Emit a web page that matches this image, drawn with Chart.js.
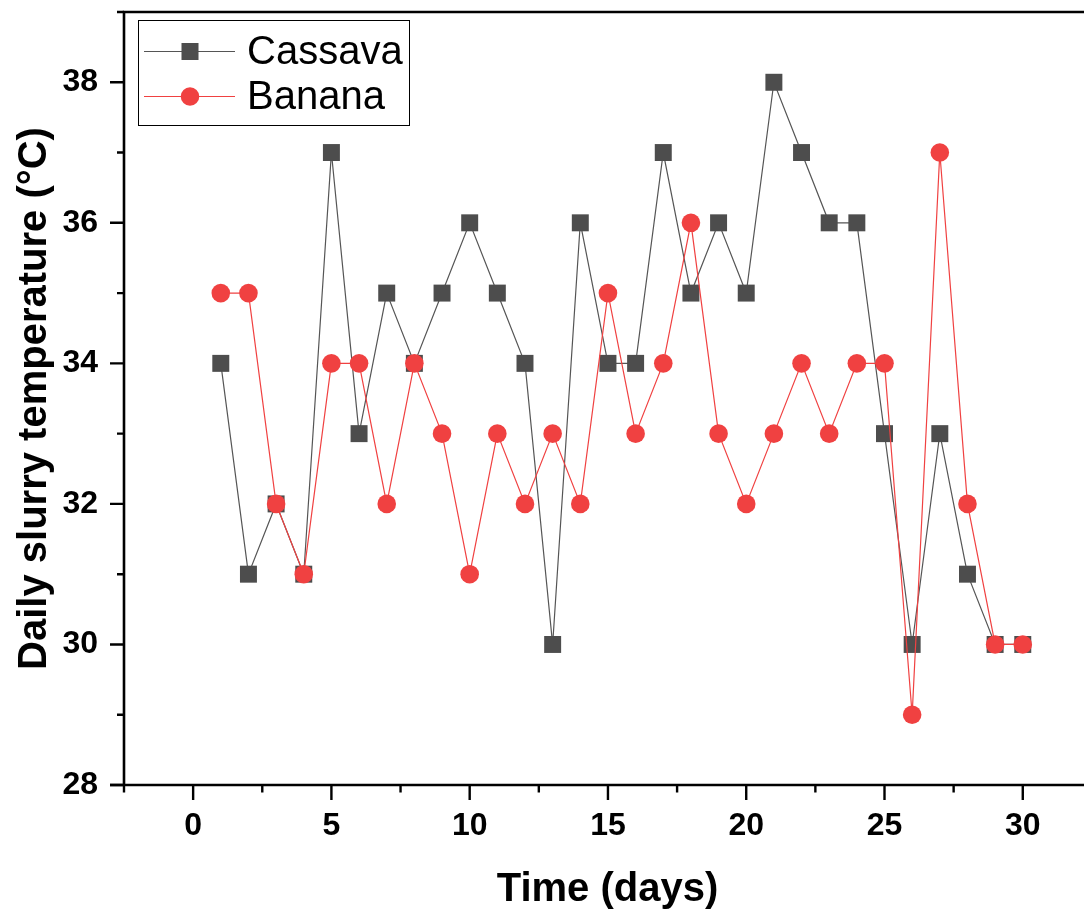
<!DOCTYPE html>
<html>
<head>
<meta charset="utf-8">
<script src="https://cdn.jsdelivr.net/npm/chart.js@4.4.0/dist/chart.umd.min.js"></script>
<style>
html,body{margin:0;padding:0;background:#fff;overflow:hidden;}
#wrap{position:relative;width:1084px;height:909px;}
</style>
</head>
<body>
<div id="wrap"><canvas id="c" width="1084" height="909"></canvas></div>
<script>
const days = [1,2,3,4,5,6,7,8,9,10,11,12,13,14,15,16,17,18,19,20,21,22,23,24,25,26,27,28,29,30];
const cassava = [34,31,32,31,37,33,35,34,35,36,35,34,30,36,34,34,37,35,36,35,38,37,36,36,33,30,33,31,30,30];
const banana  = [35,35,32,31,34,34,32,34,33,31,33,32,33,32,35,33,34,36,33,32,33,34,33,34,34,29,37,32,30,30];
const xMajorTicks = [0,5,10,15,20,25,30];
const xMinorTicks = [-2.5,2.5,7.5,12.5,17.5,22.5,27.5,32.5];
const yMajorTicks = [28,30,32,34,36,38];
const yMinorTicks = [29,31,33,35,37,39];
const seriesNames = ['Cassava','Banana'];
const xTitle = 'Time (days)';
const yTitle = 'Daily slurry temperature (°C)';

const FONT = "'Liberation Sans', Arial, Helvetica, sans-serif";
const GRAY = '#4d4d4d';
const RED = '#f04141';

function noPad(s) { s.paddingTop = 0; s.paddingBottom = 0; s.paddingLeft = 0; s.paddingRight = 0; }

const framePlugin = {
  id: 'frame',
  afterDraw(chart) {
    const ctx = chart.ctx;
    const ca = chart.chartArea;
    const xs = chart.scales.x, ys = chart.scales.y;
    ctx.save();
    ctx.strokeStyle = '#000';
    ctx.lineWidth = 2.6;
    ctx.lineCap = 'butt';
    ctx.beginPath();
    ctx.moveTo(ca.left, ca.top); ctx.lineTo(ca.left, ca.bottom + 1.3);
    ctx.moveTo(ca.left - 14, ca.bottom); ctx.lineTo(chart.width, ca.bottom);
    ctx.moveTo(ca.left - 1.3, ca.top); ctx.lineTo(chart.width, ca.top);
    ctx.stroke();
    ctx.lineWidth = 2.4;
    ctx.beginPath();
    yMajorTicks.forEach(v => { const y = ys.getPixelForValue(v); ctx.moveTo(ca.left - 14, y); ctx.lineTo(ca.left, y); });
    yMinorTicks.forEach(v => { const y = ys.getPixelForValue(v); ctx.moveTo(ca.left - 7, y); ctx.lineTo(ca.left, y); });
    xMajorTicks.forEach(v => { const x = xs.getPixelForValue(v); ctx.moveTo(x, ca.bottom); ctx.lineTo(x, ca.bottom + 15); });
    xMinorTicks.forEach(v => { const x = xs.getPixelForValue(v); ctx.moveTo(x, ca.bottom); ctx.lineTo(x, ca.bottom + 7.5); });
    ctx.stroke();

    // x axis title
    ctx.fillStyle = '#000';
    ctx.font = 'bold 40px ' + FONT;
    ctx.textAlign = 'center';
    ctx.textBaseline = 'alphabetic';
    ctx.fillText(xTitle, 607.5, 901);

    // legend
    const lx = 138, ly = 20, lw = 271, lh = 105;
    ctx.lineWidth = 1;
    ctx.strokeStyle = '#000';
    ctx.fillStyle = '#fff';
    ctx.fillRect(lx, ly, lw, lh);
    ctx.strokeRect(lx + 0.5, ly + 0.5, lw, lh);
    const rows = [51.5, 96.5];
    chart.data.datasets.forEach((ds, i) => {
      const y = rows[i];
      ctx.strokeStyle = ds.borderColor;
      ctx.lineWidth = 1;
      ctx.beginPath(); ctx.moveTo(144, y); ctx.lineTo(235, y); ctx.stroke();
      ctx.fillStyle = ds.pointBackgroundColor;
      if (ds.pointStyle === 'rect') {
        ctx.fillRect(190 - 8.5, y - 8.5, 17, 17);
      } else {
        ctx.beginPath(); ctx.arc(190, y, 9.3, 0, Math.PI * 2); ctx.fill();
      }
      ctx.fillStyle = '#000';
      ctx.font = '40px ' + FONT;
      ctx.textBaseline = 'middle';
      ctx.textAlign = 'left';
      ctx.fillText(seriesNames[i], 247, y + 1);
    });
    ctx.restore();
  }
};

new Chart(document.getElementById('c'), {
  type: 'line',
  data: {
    datasets: [
      {
        label: seriesNames[0],
        data: days.map((d, i) => ({x: d, y: cassava[i]})),
        borderColor: '#555555',
        borderWidth: 1.2,
        pointStyle: 'rect',
        pointRadius: 12,
        pointBackgroundColor: GRAY,
        pointBorderWidth: 0,
        pointBorderColor: GRAY,
        tension: 0,
        order: 2
      },
      {
        label: seriesNames[1],
        data: days.map((d, i) => ({x: d, y: banana[i]})),
        borderColor: RED,
        borderWidth: 1.2,
        pointStyle: 'circle',
        pointRadius: 9.3,
        pointBackgroundColor: RED,
        pointBorderWidth: 0,
        pointBorderColor: RED,
        tension: 0,
        order: 1
      }
    ]
  },
  options: {
    responsive: false,
    animation: false,
    events: [],
    layout: { padding: { top: 12, right: 0, left: 0, bottom: 0 } },
    plugins: { legend: { display: false }, tooltip: { enabled: false } },
    scales: {
      x: {
        type: 'linear',
        min: -2.5, max: 31.78,
        afterFit(s) { s.height = 124; noPad(s); },
        grid: { display: false, drawTicks: false },
        border: { display: false },
        afterBuildTicks(s) { s.ticks = xMajorTicks.map(v => ({value: v})); },
        ticks: {
          autoSkip: false,
          maxRotation: 0,
          padding: 22,
          color: '#000',
          font: { family: FONT, size: 32, weight: 'bold' }
        },
        title: { display: false, text: xTitle }
      },
      y: {
        type: 'linear',
        min: 28, max: 39,
        afterFit(s) { s.width = 124; noPad(s); },
        grid: { display: false, drawTicks: false },
        border: { display: false },
        afterBuildTicks(s) { s.ticks = yMajorTicks.map(v => ({value: v})); },
        ticks: {
          autoSkip: false,
          padding: 26,
          color: '#000',
          font: { family: FONT, size: 32, weight: 'bold' }
        },
        title: {
          display: true,
          text: yTitle,
          color: '#000',
          font: { family: FONT, size: 40, weight: 'bold', lineHeight: 1.2 },
          padding: { top: 11, bottom: 0 }
        }
      }
    }
  },
  plugins: [framePlugin]
});
</script>
</body>
</html>
